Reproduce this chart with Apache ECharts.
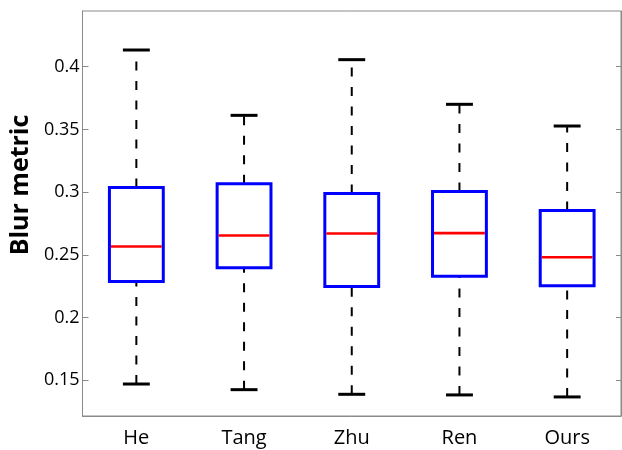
<!DOCTYPE html>
<html>
<head>
<meta charset="utf-8">
<script src="https://cdn.jsdelivr.net/npm/echarts@6/dist/echarts.min.js"></script>
<style>
  html, body { margin: 0; padding: 0; background: #fff; }
  #chart { width: 622px; height: 450px; }
</style>
</head>
<body>
<div id="chart"></div>
<script>
// Methods compared
const methods = ['He', 'Tang', 'Zhu', 'Ren', 'Ours'];

// Five-number summaries per method
const whiskerLow  = [0.147, 0.1425, 0.1388, 0.1383, 0.1367];
const quartile1   = [0.2287, 0.2396, 0.2247, 0.2329, 0.2253];
const medians     = [0.2566, 0.2654, 0.2670, 0.2673, 0.2481];
const quartile3   = [0.3037, 0.3066, 0.2989, 0.3005, 0.2853];
const whiskerHigh = [0.4133, 0.3612, 0.4056, 0.3700, 0.3527];

// Y axis tick positions
const yTicks = [0.15, 0.2, 0.25, 0.3, 0.35, 0.4];

const FONT = '"Open Sans", "Noto Sans", sans-serif';
const AXIS_GRAY = '#8a8a8a';

const boxData = methods.map((m, i) => [
  i, whiskerLow[i], quartile1[i], medians[i], quartile3[i], whiskerHigh[i]
]);

function renderBox(params, api) {
  const idx = api.value(0);
  const band = api.size([1, 0])[0];
  const half = band * 0.25;
  const capHalf = band * 0.125;
  const pLow = api.coord([idx, api.value(1)]);
  const pQ1 = api.coord([idx, api.value(2)]);
  const pMed = api.coord([idx, api.value(3)]);
  const pQ3 = api.coord([idx, api.value(4)]);
  const pHigh = api.coord([idx, api.value(5)]);
  const cx = pMed[0];
  const dashStyle = { stroke: '#000', lineWidth: 2, lineDash: [9, 10.5], lineCap: 'butt' };
  return {
    type: 'group',
    children: [
      // lower whisker: from minimum up to Q1
      { type: 'line', shape: { x1: cx, y1: pLow[1], x2: cx, y2: pQ1[1] }, style: dashStyle },
      // upper whisker: from Q3 up to maximum
      { type: 'line', shape: { x1: cx, y1: pQ3[1], x2: cx, y2: pHigh[1] }, style: dashStyle },
      // caps
      { type: 'line', shape: { x1: cx - capHalf, y1: pLow[1], x2: cx + capHalf, y2: pLow[1] },
        style: { stroke: '#000', lineWidth: 3 } },
      { type: 'line', shape: { x1: cx - capHalf, y1: pHigh[1], x2: cx + capHalf, y2: pHigh[1] },
        style: { stroke: '#000', lineWidth: 3 } },
      // interquartile box
      { type: 'rect', shape: { x: cx - half, y: pQ3[1], width: half * 2, height: pQ1[1] - pQ3[1] },
        style: { fill: '#fff', stroke: '#0000ff', lineWidth: 3 } },
      // median
      { type: 'line', shape: { x1: cx - half + 1.5, y1: pMed[1], x2: cx + half - 1.5, y2: pMed[1] },
        style: { stroke: '#ff0000', lineWidth: 2.6 } }
    ]
  };
}

const chart = echarts.init(document.getElementById('chart'), null, { renderer: 'canvas' });
chart.setOption({
  animation: false,
  backgroundColor: '#fff',
  grid: {
    left: 79, right: 1, top: 11, bottom: 34,
    show: true, borderColor: AXIS_GRAY, borderWidth: 1, backgroundColor: 'transparent'
  },
  xAxis: {
    type: 'category',
    data: methods,
    boundaryGap: true,
    axisLine: { lineStyle: { color: AXIS_GRAY, width: 1 } },
    axisTick: { show: false },
    axisLabel: { color: '#000', fontFamily: FONT, fontSize: 20, margin: 12 },
    splitLine: { show: false }
  },
  yAxis: [
    {
      type: 'value',
      min: 0.1215,
      max: 0.4444,
      position: 'left',
      name: 'Blur metric',
      nameLocation: 'middle',
      nameRotate: 90,
      nameGap: 47,
      nameTextStyle: {
        color: '#000', fontFamily: FONT, fontSize: 25, fontWeight: 'bold',
        padding: [0, 0, 0, 57]
      },
      axisLine: { show: true, lineStyle: { color: AXIS_GRAY, width: 1 } },
      axisTick: { show: true, inside: true, length: 6, customValues: yTicks,
        lineStyle: { color: AXIS_GRAY } },
      axisLabel: { customValues: yTicks, color: '#000', fontFamily: FONT, fontSize: 18, margin: 3,
        formatter: v => String(+v.toFixed(2)) },
      splitLine: { show: false }
    },
    {
      type: 'value',
      min: 0.1215,
      max: 0.4444,
      position: 'right',
      axisLine: { show: true, lineStyle: { color: AXIS_GRAY, width: 1 } },
      axisTick: { show: true, inside: true, length: 5, customValues: yTicks,
        lineStyle: { color: AXIS_GRAY } },
      axisLabel: { show: false },
      splitLine: { show: false }
    }
  ],
  series: [{
    type: 'custom',
    renderItem: renderBox,
    encode: { x: 0, y: [1, 2, 3, 4, 5] },
    data: boxData,
    clip: false
  }]
});
</script>
</body>
</html>
